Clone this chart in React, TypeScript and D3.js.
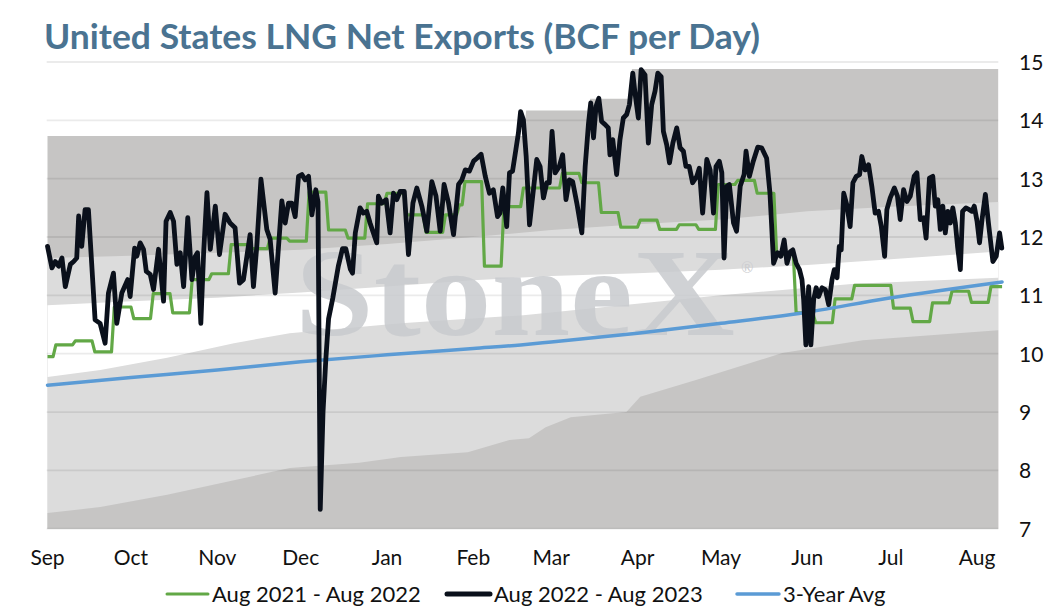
import * as d3 from "d3";

// ---- data ----
const startDate = new Date(2022, 8, 1); // day 0 = Sep 1
const monthLabels = ["Sep", "Oct", "Nov", "Dec", "Jan", "Feb", "Mar", "Apr", "May", "Jun", "Jul", "Aug"];
const yTicks = [7, 8, 9, 10, 11, 12, 13, 14, 15];

// Aug 2022 - Aug 2023, [day since Sep 1, BCF/d]
const exports2223: [number, number][] = [
  [0, 11.84], [1.6, 11.47], [2.8, 11.58], [4, 11.5], [5.2, 11.64], [6.4, 11.15], [8.2, 11.53], [9.4, 11.58],
  [10.5, 11.64], [11.2, 12.36], [12.3, 11.84], [13.5, 12.47], [14.7, 12.47], [17.1, 10.58], [18.9, 10.52],
  [20.7, 10.18], [21.9, 11.04], [23.7, 11.38], [24.9, 10.52], [26.7, 11.04], [28.8, 11.27], [29.7, 10.98],
  [31.3, 11.81], [32.1, 11.67], [33.3, 11.9], [34.5, 11.79], [35.5, 11.41], [36.9, 11.36], [38.1, 11.1],
  [39.9, 11.79], [41.7, 10.9], [42.6, 12.27], [44.1, 12.42], [45.3, 12.27], [46.5, 11.53], [47.7, 11.73],
  [48.9, 11.15], [50.4, 12.33], [51.9, 11.27], [53.1, 11.67], [53.9, 11.73], [55.1, 10.52], [56.1, 11.73],
  [57.3, 12.76], [58.5, 11.79], [60.3, 12.53], [61.8, 11.7], [63.8, 12.39], [65.6, 12.24], [67.4, 12.16],
  [69, 11.21], [70.4, 11.27], [72.8, 12.04], [74, 11.15], [75.2, 11.84], [76.7, 12.99], [78.8, 12.13],
  [80, 11.96], [81.8, 11.04], [84.2, 12.62], [85.4, 12.24], [86.6, 12.58], [87.8, 12.58], [89, 12.35],
  [90.2, 13.04], [91.4, 13.07], [92.6, 12.98], [93.8, 13.04], [95, 12.38], [96.4, 12.81], [97.2, 12.6],
  [98, 7.33], [99, 9.0], [100, 9.9], [101, 10.6], [102.5, 10.95], [104.5, 11.5], [106, 11.8], [107.2, 11.8],
  [108.8, 11.45], [109.6, 11.38], [110.6, 12.07], [112.3, 12.5], [113.5, 12.41], [114.7, 12.44], [115.9, 12.24],
  [117.1, 12.07], [118.3, 11.9], [118.9, 12.7], [120.1, 12.58], [121.7, 12.64], [123.1, 12.07], [124.3, 12.75],
  [125.5, 12.64], [126.7, 12.78], [128.2, 12.78], [129.7, 11.7], [131.3, 12.58], [132.7, 12.84], [134.5, 12.53],
  [136.3, 12.1], [138.1, 12.95], [139.6, 12.7], [141.1, 12.1], [142.5, 12.9], [144.1, 12.58], [145.9, 12.04],
  [147.7, 12.9], [148.9, 12.98], [150.1, 13.15], [151.6, 13.13], [153.1, 13.3], [154.3, 13.35], [155.8, 13.42],
  [157.3, 13.04], [158.8, 12.75], [160.2, 12.81], [161.7, 12.35], [162.6, 12.41], [163.6, 12.84], [165, 12.18],
  [166, 13.1], [167.1, 13.13], [168.3, 13.5], [169.2, 13.78], [170, 14.15], [171, 14.01], [172, 13.38],
  [173.2, 12.21], [175.8, 13.33], [177, 13.21], [178.2, 12.67], [179.4, 12.93], [180.3, 12.93], [181.3, 13.81],
  [182.4, 13.1], [183.9, 13.21], [185.1, 13.41], [186.3, 12.64], [187.5, 12.98], [188.7, 12.95], [190.2, 12.58],
  [192, 12.07], [193.2, 13.21], [194.4, 13.95], [195.2, 14.3], [196.2, 13.7], [197.1, 14.24], [198.1, 14.38],
  [199.1, 13.98], [200.3, 13.93], [201.5, 13.87], [202.1, 13.41], [203.1, 13.67], [204.5, 13.07], [205.7, 13.67],
  [206.9, 14.04], [208.1, 14.1], [209.1, 14.27], [210.3, 14.81], [211.1, 14.47], [212.3, 14.04], [213.3, 14.87],
  [214.7, 14.78], [215.9, 13.61], [217.1, 14.27], [218.3, 14.5], [219.3, 14.81], [220.5, 14.75], [221.3, 13.81],
  [222.5, 13.58], [223.5, 13.27], [224.7, 13.61], [226.1, 13.87], [227.3, 13.53], [228.5, 13.47], [229.4, 13.21],
  [230.6, 13.21], [231.8, 12.93], [233.3, 13.04], [234.2, 13.18], [235.4, 12.41], [236.9, 13.33], [238.1, 13.15],
  [239.3, 12.41], [240.2, 13.21], [241.4, 13.3], [242.3, 13.1], [243.1, 11.64], [244.1, 12.87], [245, 12.9],
  [246.5, 12.24], [247.6, 12.1], [248.9, 12.87], [250.3, 13.07], [251, 13.47], [252.2, 13.04], [253.6, 13.3],
  [255.2, 13.54], [256.6, 13.53], [258.4, 13.35], [259.6, 12.75], [260.9, 11.55], [262.3, 11.73], [263.5, 11.67],
  [264.7, 11.95], [265.7, 11.55], [266.9, 11.75], [267.8, 11.78], [269, 11.55], [270.2, 11.44], [271.1, 11.27],
  [271.7, 10.93], [272.5, 10.15], [273.5, 11.15], [274.3, 10.15], [275.3, 10.93], [276.2, 11.13], [277.1, 10.98],
  [278.3, 11.13], [279.5, 11.1], [280.7, 10.84], [281.9, 11.27], [282.7, 11.44], [283.7, 11.3], [284.5, 11.84],
  [285.2, 11.78], [286.1, 12.75], [287.2, 12.55], [288.4, 12.18], [289.4, 12.93], [290.6, 13.04], [291.8, 13.07],
  [292.6, 13.38], [293.8, 13.15], [295, 13.24], [296.2, 12.87], [297.4, 12.41], [298.6, 12.44], [299.6, 12.18],
  [300.8, 11.67], [301.6, 12.47], [302.8, 12.67], [304.3, 12.84], [305.4, 12.7], [306.4, 12.3], [307.6, 12.81],
  [308.8, 12.61], [310, 12.7], [311.4, 13.04], [312.4, 13.1], [313.6, 12.3], [314.8, 12.33], [315.7, 11.98],
  [316.9, 13.01], [318.1, 13.04], [319, 12.53], [319.9, 12.64], [320.8, 12.13], [321.7, 12.53], [322.6, 12.07],
  [323.5, 12.44], [324.4, 12.24], [325.3, 12.5], [326.2, 12.24], [327, 11.84], [328, 11.44], [328.8, 12.44],
  [330, 12.5], [331.2, 12.47], [332.2, 12.44], [333, 12.53], [334, 12.27], [334.9, 11.9], [335.8, 12.3],
  [337, 12.73], [338.1, 12.24], [339.7, 11.58], [340.9, 11.67], [342.1, 12.07], [342.9, 11.81],
];

// Aug 2021 - Aug 2022, weekly steps (week start day, value)
const prevWeekStarts = [0, 3, 10, 17, 24, 31, 38, 45, 52, 59, 66, 73, 80, 87, 94, 101, 108, 115, 122, 129, 136, 143,
  148, 150, 157, 164, 171, 178, 185, 192, 199, 206, 213, 220, 227, 234, 241, 248, 255, 262, 269, 276, 283, 290, 297,
  304, 311, 318, 325, 332, 339];
const prevWeekValues = [9.95, 10.15, 10.22, 10.03, 10.8, 10.6, 11.03, 10.7, 11.27, 11.37, 11.87, 11.8, 11.98, 11.93,
  12.77, 12.12, 11.98, 12.57, 12.75, 12.38, 12.08, 12.38, 12.55, 12.95, 11.5, 12.52, 12.84, 12.84, 13.09, 12.93,
  12.42, 12.17, 12.29, 12.13, 12.21, 12.13, 12.9, 12.97, 12.75, 11.7, 10.7, 10.53, 10.94, 11.17, 11.17, 10.78,
  10.55, 10.87, 11.07, 10.88, 11.15];
const prevLastDay = 343;

// 3-year average
const avg3y: [number, number][] = [
  [0, 9.46], [30, 9.59], [61, 9.72], [91, 9.86], [122, 9.98], [153, 10.09], [170, 10.15], [181, 10.2],
  [212, 10.35], [242, 10.52], [270, 10.69], [302, 10.95], [343, 11.23],
];

// shaded range bands (upper edges, filled down to the axis)
const bandMax: [number, number][] = [
  [0, 13.73], [171, 13.73], [172, 14.17], [194, 14.17], [195, 14.37], [209, 14.37], [210, 14.88], [341.6, 14.88],
];
const bandUpper: [number, number][] = [
  [0, 11.64], [30, 11.68], [61, 11.73], [91, 11.78], [122, 11.88], [153, 12.0], [181, 12.12], [212, 12.22],
  [242, 12.3], [273, 12.44], [303, 12.52], [341.6, 12.6],
];
const bandWhiteTop: [number, number][] = [
  [0, 10.83], [30, 10.9], [61, 10.96], [91, 11.05], [122, 11.15], [153, 11.26], [181, 11.33], [212, 11.38],
  [242, 11.44], [273, 11.52], [303, 11.62], [341.6, 11.75],
];
const bandWhiteBottom: [number, number][] = [
  [0, 9.6], [19, 9.72], [43, 9.93], [67, 10.18], [87, 10.35], [127, 10.52], [171, 10.66], [242, 11.0],
  [290, 11.2], [341.6, 11.3],
];
const bandMin: [number, number][] = [
  [0, 7.27], [19, 7.37], [43, 7.58], [67, 7.83], [87, 8.04], [112, 8.13], [127, 8.23], [151, 8.31], [166, 8.52],
  [173, 8.55], [179, 8.74], [188, 8.91], [208, 9.0], [213, 9.26], [233, 9.55], [264, 10.01], [293, 10.23],
  [341.6, 10.4],
];

const DARK = "#C6C5C4";
const LIGHT = "#DCDCDC";
const FONT = "Lato, 'Open Sans', sans-serif";

export default function App() {
  const width = 1058;
  const height = 613;

  const x = d3.scaleLinear().domain([0, 342]).range([47.5, 999.3]);
  const y = d3.scaleLinear().domain([7, 15]).range([528.7, 62]);

  const area = d3
    .area<[number, number]>()
    .x((d) => x(d[0]))
    .y0(y(7))
    .y1((d) => y(d[1]));
  const line = d3
    .line<[number, number]>()
    .x((d) => x(d[0]))
    .y((d) => y(d[1]));
  const smooth = d3
    .line<[number, number]>()
    .x((d) => x(d[0]))
    .y((d) => y(d[1]))
    .curve(d3.curveMonotoneX);

  // step vertices for last year's weekly series
  const prevPts: [number, number][] = [];
  prevWeekStarts.forEach((s, i) => {
    const end = i < prevWeekStarts.length - 1 ? prevWeekStarts[i + 1] - 1 : prevLastDay;
    prevPts.push([s, prevWeekValues[i]]);
    if (end > s) prevPts.push([end, prevWeekValues[i]]);
  });

  const monthDays = monthLabels.map((_, i) => d3.timeDay.count(startDate, new Date(2022, 8 + i, 1)));

  const bands: [[number, number][], string][] = [
    [bandMax, DARK],
    [bandUpper, LIGHT],
    [bandWhiteTop, "#FFFFFF"],
    [bandWhiteBottom, LIGHT],
    [bandMin, DARK],
  ];

  const legend = [
    { label: "Aug 2021 - Aug 2022", color: "#62A846", w: 3, x1: 167, x2: 208 },
    { label: "Aug 2022 - Aug 2023", color: "#0A101B", w: 5, x1: 447, x2: 490 },
    { label: "3-Year Avg", color: "#5B9BD5", w: 3.5, x1: 737, x2: 779 },
  ];

  return (
    <svg
      width={width}
      height={height}
      style={{ position: "absolute", left: 0, top: 0, background: "#fff" }}
    >
      {bands.map(([d, c], i) => (
        <path key={i} d={area(d) || ""} fill={c} />
      ))}

      {/* grid */}
      {yTicks.map((t) => (
        <line
          key={t}
          x1={46.7}
          x2={998.3}
          y1={y(t)}
          y2={y(t)}
          stroke="#000"
          strokeOpacity={0.08}
          strokeWidth={1.8}
        />
      ))}

      {/* watermark */}
      <text
        x={295}
        y={335}
        fontFamily="'Liberation Serif', 'DejaVu Serif', serif"
        fontWeight="bold"
        fontSize={124}
        fill="#C8CACE"
        fillOpacity={0.85}
        textLength={440}
        lengthAdjust="spacingAndGlyphs"
      >
        StoneX
      </text>
      <text x={741} y={273} fontFamily={FONT} fontSize={15} fill="#CDCED1">
        ®
      </text>

      {/* series */}
      <path d={line(prevPts) || ""} fill="none" stroke="#62A846" strokeWidth={3.2} strokeLinejoin="round" />
      <path d={smooth(avg3y) || ""} fill="none" stroke="#5B9BD5" strokeWidth={3.5} strokeLinecap="round" />
      <path
        d={line(exports2223) || ""}
        fill="none"
        stroke="#0A101B"
        strokeWidth={4.8}
        strokeLinejoin="round"
        strokeLinecap="round"
      />

      {/* title */}
      <text
        x={44}
        y={49}
        fontFamily={FONT}
        fontWeight="bold"
        fontSize={34}
        fill="#4A7391"
        textLength={716}
        lengthAdjust="spacingAndGlyphs"
      >
        United States LNG Net Exports (BCF per Day)
      </text>

      {/* y axis (right) */}
      {yTicks.map((t) => (
        <text key={t} x={1019} y={y(t) + 8} fontFamily={FONT} fontSize={21} fill="#111">
          {t}
        </text>
      ))}

      {/* x axis */}
      {monthLabels.map((m, i) => (
        <text key={m} x={x(monthDays[i])} y={565} textAnchor="middle" fontFamily={FONT} fontSize={21} fill="#111">
          {m}
        </text>
      ))}

      {/* legend */}
      {legend.map((l) => (
        <g key={l.label}>
          <line x1={l.x1} x2={l.x2} y1={594} y2={594} stroke={l.color} strokeWidth={l.w} strokeLinecap="round" />
          <text x={l.x2 + 4} y={602} fontFamily={FONT} fontSize={22} fill="#111">
            {l.label}
          </text>
        </g>
      ))}
    </svg>
  );
}
